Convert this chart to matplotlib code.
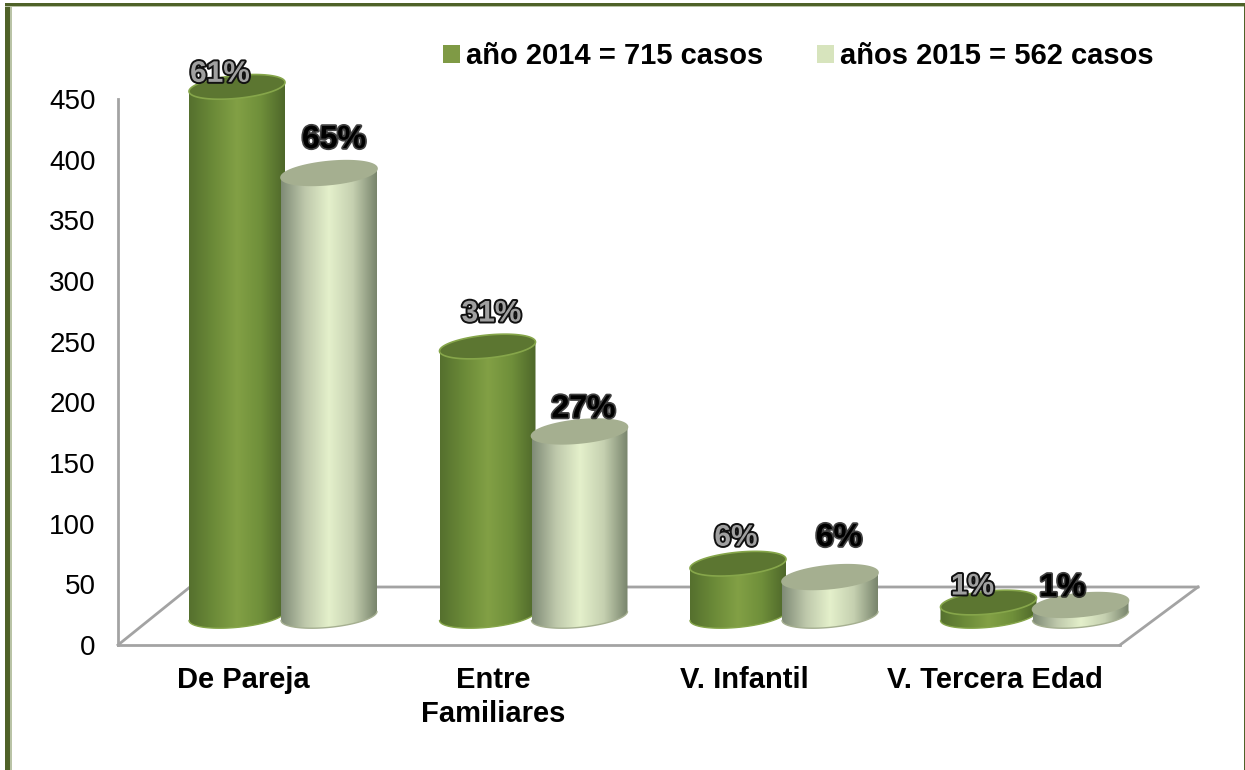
import numpy as np
import matplotlib
matplotlib.use( 'Agg' )
import matplotlib.pyplot as plt
import matplotlib.patheffects as pe
from matplotlib.colors import LinearSegmentedColormap
from matplotlib.patches import Patch, Polygon, Rectangle

plt.rcParams[ 'font.family' ] = [ 'Liberation Sans', 'DejaVu Sans' ]

categories = [ 'De Pareja', 'Entre\nFamiliares', 'V. Infantil', 'V. Tercera Edad' ]
values_2014 = [ 436, 222, 43, 11 ]
values_2015 = [ 365, 152, 32, 9 ]
labels_2014 = [ '61%', '31%', '6%', '1%' ]
labels_2015 = [ '65%', '27%', '6%', '1%' ]
y_ticks = [ 0, 50, 100, 150, 200, 250, 300, 350, 400, 450 ]
legend_labels = [ 'año 2014 = 715 casos', 'años 2015 = 562 casos' ]

W, H = 1245, 770
GRID = '#A3A3A3'
FRAME = '#4F6228'

STYLE_2014 = {
	'cmap'  : [ '#55702E', '#6B8A38', '#82A045', '#6F8F3A', '#4E672A' ],
	'top'   : '#5C7631',
	'rim'   : '#86A64A',
	'swatch': '#7F9A45'
}
STYLE_2015 = {
	'cmap'  : [ '#7F8B76', '#BEC8AB', '#E4F0CB', '#C5D0B0', '#78846C' ],
	'top'   : '#A5AF90',
	'rim'   : '#A5AF90',
	'swatch': '#D7E4BD'
}

# pixel offsets of the percent labels from the top centre of each cylinder
label_nudge_2014 = [ ( -17, -13 ), ( 4, -33 ), ( -2, -26 ), ( -16, -16 ) ]
label_nudge_2015 = [ ( 5, -33 ), ( 4, -22 ), ( 9, -39 ), ( -18, -17 ) ]

fig = plt.figure( figsize = ( W / 100, H / 100 ), dpi = 100 )

# plot box runs from the foot of the y axis to the far corner of the floor,
# with room above 450 because the tallest cylinder pokes over the wall
left, right, bottom = 118, 1198, 645
px_y  = 546.0 / 450.0   # pixels per unit
y_max = 480.0
top   = bottom - y_max * px_y
ax = fig.add_axes( [ left / W, 1 - bottom / H, ( right - left ) / W, ( bottom - top ) / H ] )

px_x = 250.5                      # pixels per category
x0   = -( 283 - left ) / px_x
x1   = x0 + ( right - left ) / px_x
BASE = 24.0                       # cylinders stand on the middle of the floor
half = 48.0 / px_x
off  = 46.0 / px_x


def ellipse( cx, cy, t ):
	x = cx + half * np.cos( t )
	y = cy + ( 11.5 * np.sin( t ) + 4.5 * np.cos( t ) ) / px_y
	return x, y


def cylinder( cx, value, style, zorder ):
	t_low = np.linspace( np.pi, 2 * np.pi, 60 )
	t_all = np.linspace( 0, 2 * np.pi, 120 )
	x_low, y_low = ellipse( cx, BASE, t_low )
	x_top, y_top = ellipse( cx, BASE + value, t_all )
	x_up, y_up   = ellipse( cx, BASE + value, t_low[ ::-1 ] )

	body = Polygon( np.column_stack( [ np.r_[ x_low, x_up ], np.r_[ y_low, y_up ] ] ),
		closed = True, facecolor = 'none', edgecolor = 'none', transform = ax.transData )
	ax.add_patch( body )

	cmap = LinearSegmentedColormap.from_list( 'c', style[ 'cmap' ] )
	img  = ax.imshow( np.linspace( 0, 1, 256 ).reshape( 1, -1 ), cmap = cmap, aspect = 'auto',
		extent = [ cx - half, cx + half, 0, BASE + value + 20 ], zorder = zorder )
	img.set_clip_path( body )
	body.set_zorder( zorder )

	ax.plot( x_low, y_low, color = style[ 'rim' ], lw = 1.0, zorder = zorder + 0.1,
		solid_capstyle = 'round' )
	ax.fill( x_top, y_top, facecolor = style[ 'top' ], edgecolor = style[ 'rim' ],
		lw = 1.2, zorder = zorder + 0.2 )


def percent( cx, value, text, nudge, solid, zorder ):
	if solid:
		effects = [ pe.withStroke( linewidth = 2.6, foreground = '#111111', alpha = 0.8 ) ]
		color   = 'black'
		size    = 23
	else:
		effects = [ pe.Stroke( linewidth = 2.8, foreground = '#111111' ),
			pe.Normal() ]
		color   = '#A0A0A0'
		size    = 21.5
	ax.annotate( text, ( cx, BASE + value ), xytext = ( nudge[ 0 ] * 0.72, -nudge[ 1 ] * 0.72 ),
		textcoords = 'offset points', ha = 'center', va = 'center', fontsize = size,
		fontweight = 'bold', color = color, path_effects = effects, zorder = zorder,
		annotation_clip = False )


# floor and walls of the 3D box
floor_back = 58.0 / px_y
side       = 72.0 / px_x
slant      = ( right - 1120 ) / px_x
ax.plot( [ x0, x1 - slant ], [ 0, 0 ], color = GRID, lw = 2.0, zorder = 1, clip_on = False )
ax.plot( [ x0, x0 ], [ 0, 450 ], color = GRID, lw = 2.0, zorder = 1, clip_on = False )
ax.plot( [ x0, x0 + side, x1 ], [ 0, floor_back, floor_back ], color = GRID, lw = 2.0, zorder = 1, clip_on = False )
ax.plot( [ x1, x1 - slant ], [ floor_back, 0 ], color = GRID, lw = 2.0, zorder = 1, clip_on = False )

for n in range( len( categories ) ):
	cylinder( n - off, values_2014[ n ], STYLE_2014, 3 )
	cylinder( n + off, values_2015[ n ], STYLE_2015, 4 )

for n in range( len( categories ) ):
	percent( n - off, values_2014[ n ], labels_2014[ n ], label_nudge_2014[ n ], False, 6 )
	percent( n + off, values_2015[ n ], labels_2015[ n ], label_nudge_2015[ n ], True, 6 )

ax.set_xlim( x0, x1 )
ax.set_ylim( 0, y_max )
ax.set_yticks( y_ticks )
ax.set_xticks( np.arange( len( categories ) ) - 40.0 / px_x )
ax.set_xticklabels( categories, fontsize = 21, fontweight = 'bold', linespacing = 1.3, va = 'top' )
ax.tick_params( axis = 'y', length = 0, pad = 16, labelsize = 20 )
ax.tick_params( axis = 'x', length = 0, pad = 15 )
for spine in ax.spines.values():
	spine.set_visible( False )
ax.patch.set_alpha( 0 )

handles = [ Patch( facecolor = STYLE_2014[ 'swatch' ] ), Patch( facecolor = STYLE_2015[ 'swatch' ] ) ]
fig.legend( handles, legend_labels, ncols = 2, frameon = False, loc = 'center left',
	bbox_to_anchor = ( 443 / W, 1 - 56 / H ), prop = { 'size': 21, 'weight': 'bold' },
	handlelength = 0.58, handleheight = 0.58, handletextpad = 0.2, columnspacing = 1.85,
	borderpad = 0, borderaxespad = 0 )

# page border: left, top and hairline right, no bottom
for rect, color in [
	( ( 10, 0, 1.5, H - 6 ), '#B9C3A6' ),
	( ( 5, 0, 5, H - 3 ), FRAME ),
	( ( 5, H - 7, 1239, 1 ), '#B9C3A6' ),
	( ( 5, H - 6, 1239, 3 ), FRAME ),
	( ( 1243.5, 0, 1, H - 3 ), FRAME ) ]:
	fig.add_artist( Rectangle( ( rect[ 0 ] / W, rect[ 1 ] / H ), rect[ 2 ] / W, rect[ 3 ] / H,
		transform = fig.transFigure, facecolor = color, edgecolor = 'none' ) )

plt.savefig( 'out.png', dpi = 100 )
plt.close()
